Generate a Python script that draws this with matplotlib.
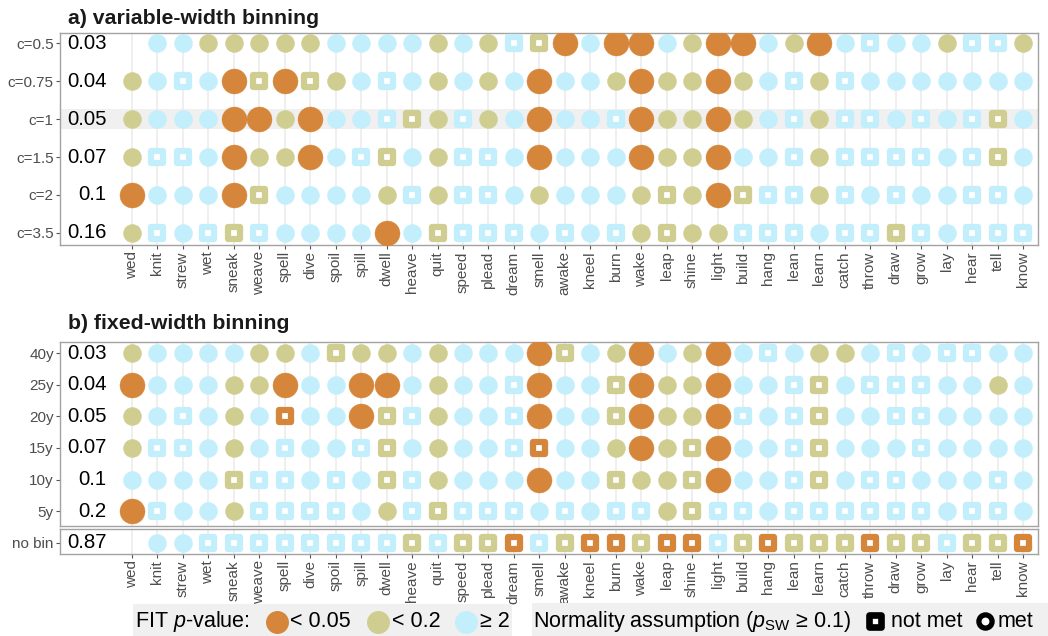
import matplotlib.pyplot as plt
from matplotlib.markers import MarkerStyle
from matplotlib.patches import Rectangle

plt.rcParams['font.family'] = ['Liberation Sans', 'DejaVu Sans']
plt.rcParams['mathtext.fontset'] = 'custom'
plt.rcParams['mathtext.rm'] = 'Liberation Sans'
plt.rcParams['mathtext.it'] = 'Liberation Sans:italic'

words = ['wed', 'knit', 'strew', 'wet', 'sneak', 'weave', 'spell', 'dive', 'spoil',
         'spill', 'dwell', 'heave', 'quit', 'speed', 'plead', 'dream', 'smell', 'awake',
         'kneel', 'burn', 'wake', 'leap', 'shine', 'light', 'build', 'hang', 'lean',
         'learn', 'catch', 'throw', 'draw', 'grow', 'lay', 'hear', 'tell', 'know']

# FIT p-value class per cell: o = < 0.05, g = < 0.2, b = >= 0.2, - = missing
# normality per cell: s = not met (square), c = met (circle)
rows_a = ['c=0.5', 'c=0.75', 'c=1', 'c=1.5', 'c=2', 'c=3.5']
pvals_a = ['0.03', '0.04', '0.05', '0.07', '0.1', '0.16']
fit_a = ['-bbggg ggbbbb gbgbgo boobgo obgobb bbgbbg',
         'gbbbog oggbbb gbgbob bgoggo gbbgbb bbbbbb',
         'gbbboo gobbbg gbgbob bboggo gbbgbb bbbbgb',
         'gbbbog gobbgb gbbbob bboggo bbbgbb bbbbgb',
         'obbbog bbbbgb gbbbgb bbgggo gbbgbb bbbbbb',
         'gbbbgb bbbbob gbbbbb bbgggg bbbbbb gbbbbb']
norm_a = ['-ccccc cccccc cccssc cccccc cccccs cccssc',
          'ccsccs csccsc cccccc cccccc ccscsc cccccc',
          'cccccc ccccss cscccc cscccc ccscss cscssc',
          'cssccc cccssc cssccc cccccc ccscss sscssc',
          'cccccs cccccs cssccc cccscc ssscsc sccssc',
          'cscsss cccccc sssscs cscscc ssscss sscsss']

rows_b = ['40y', '25y', '20y', '15y', '10y', '5y']
pvals_b = ['0.03', '0.04', '0.05', '0.07', '0.1', '0.2']
fit_b = ['gbbbbg gbgggb gbbbog bgobgo bbbggb bbbbbb',
         'obbbgg obboob gbbbob bgoggo bbbgbb bbbbgb',
         'gbbbgb obbogb gbbbob bgoggo bbbgbb bbbbbb',
         'gbbbgb bbbbgb gbbbob bgoggo bbbgbb bbbbbb',
         'bbbbgb bbbbgb gbbbob bggggo bbbgbb bbbbbb',
         'obbbgb bbbbgb gbbbbb bbbggb bbbbbb bbbbbb']
norm_b = ['cccccc ccsccc cccccs cccccc cscccc scsscc',
          'cccccc cccccc cccscc cscccc ccsscs sscccc',
          'ccsccc scccss cccscc cscccc scsscc sscccc',
          'cssccc sccssc cccssc ccccsc ccsscc cscccc',
          'ccccss scscss cccccc csccsc ccsscs scccsc',
          'cscccs sssccs sssscs csscss scssss sscssc']

rows_nobin = ['no bin']
pvals_nobin = ['0.87']
fit_nobin = ['-bbbbb bbbbbg bggobg oogoob gogggo ggbggo']
norm_nobin = ['-ccsss ssssss ssssss ssssss ssssss ssssss']

colors = {'o': '#d6863a', 'g': '#cfcd8f', 'b': '#c3eefc'}
circle_ms = {'o': 18, 'g': 13, 'b': 13}
square = MarkerStyle('s', joinstyle='round')
circle = MarkerStyle('o')
tick_grey = '#4d4d4d'
border = '#a3a3a3'

fig = plt.figure(figsize=(10.48, 6.36), dpi=100)
W, H = 1048, 636


def px_axes(left, top, right, bottom):
    return fig.add_axes([left / W, 1 - bottom / H, (right - left) / W, (bottom - top) / H])


def draw_panel(ax, labels, pvals, fit, norm, ylim, band=None, xlabels=False):
    ax.set_xlim(-2.83, 35.59)
    ax.set_ylim(*ylim)
    if band is not None:
        ax.axhspan(band - 0.27, band + 0.27, color='#f0f0f0', zorder=0, lw=0)
    for i in range(len(labels)):
        f = fit[i].replace(' ', '')
        n = norm[i].replace(' ', '')
        for j, c in enumerate(f):
            if c == '-':
                continue
            if n[j] == 's':
                ax.plot(j, i, marker=square, ms=8.2, mfc='white', mec=colors[c],
                        mew=4.5, ls='none', zorder=3)
            else:
                ax.plot(j, i, marker=circle, ms=circle_ms[c], mfc=colors[c],
                        mec=colors[c], mew=0.3, ls='none', zorder=3)
        ax.text(-1.0, i, pvals[i], ha='right', va='center', fontsize=14.7, color='black')
    ax.set_yticks(range(len(labels)))
    ax.set_yticklabels(labels, fontsize=11, color=tick_grey)
    ax.set_xticks(range(len(words)))
    if xlabels:
        ax.set_xticklabels(words, rotation=90, fontsize=11, color=tick_grey,
                           ha='center', va='top')
    else:
        ax.set_xticklabels([])
    ax.tick_params(axis='both', length=3, width=0.8, color='#555555', pad=1.5)
    if not xlabels:
        ax.tick_params(axis='x', length=0)
    ax.grid(axis='x', color='#ebebeb', lw=1.1, zorder=1)
    ax.set_axisbelow(True)
    for s in ax.spines.values():
        s.set_color(border)
        s.set_linewidth(1)


ax_a = px_axes(60, 33, 1038, 245)
draw_panel(ax_a, rows_a, pvals_a, fit_a, norm_a, (5.32, -0.27), band=2, xlabels=True)
fig.text(68 / W, 1 - 24 / H, 'a) variable-width binning', fontsize=15.3,
         fontweight='bold', color='#1a1a1a', va='baseline')

ax_b = px_axes(60, 342, 1038, 526)
draw_panel(ax_b, rows_b, pvals_b, fit_b, norm_b, (5.47, -0.35))
ax_n = px_axes(60, 529, 1038, 554)
draw_panel(ax_n, rows_nobin, pvals_nobin, fit_nobin, norm_nobin, (0.35, -0.44), xlabels=True)
fig.text(68 / W, 1 - 329 / H, 'b) fixed-width binning', fontsize=15.3,
         fontweight='bold', color='#1a1a1a', va='baseline')

# legend drawn in pixel coordinates
lg = fig.add_axes([0, 0, 1, 1])
lg.set_xlim(0, W)
lg.set_ylim(H, 0)
lg.axis('off')
lg.add_patch(Rectangle((133, 604), 379, 40, color='#f0f0f0', lw=0))
lg.add_patch(Rectangle((532, 603), 530, 40, color='#f0f0f0', lw=0))
base = 627
lg.text(135, base, 'FIT $p$-value:', fontsize=15.5, va='baseline')
for x, c, t in [(276.5, 'o', '< 0.05'), (377.5, 'g', '< 0.2'), (466, 'b', '\u2265 2')]:
    lg.plot(x, 622, marker='o', ms=15.5, color=colors[c], ls='none')
    lg.text(x + 14, base, t, fontsize=15.5, va='baseline')
lg.text(533, base, 'Normality assumption ($p_{\\mathrm{SW}}$ \u2265 0.1)', fontsize=15.5,
        va='baseline')
lg.plot(875, 621, marker=square, ms=8.5, mfc='white', mec='black', mew=4.8, ls='none')
lg.text(891, base, 'not met', fontsize=15.5, va='baseline')
lg.plot(985, 621, marker='o', ms=9.5, mfc='white', mec='black', mew=3.8, ls='none')
lg.text(998, base, 'met', fontsize=15.5, va='baseline')

fig.savefig('out.png', dpi=100)
